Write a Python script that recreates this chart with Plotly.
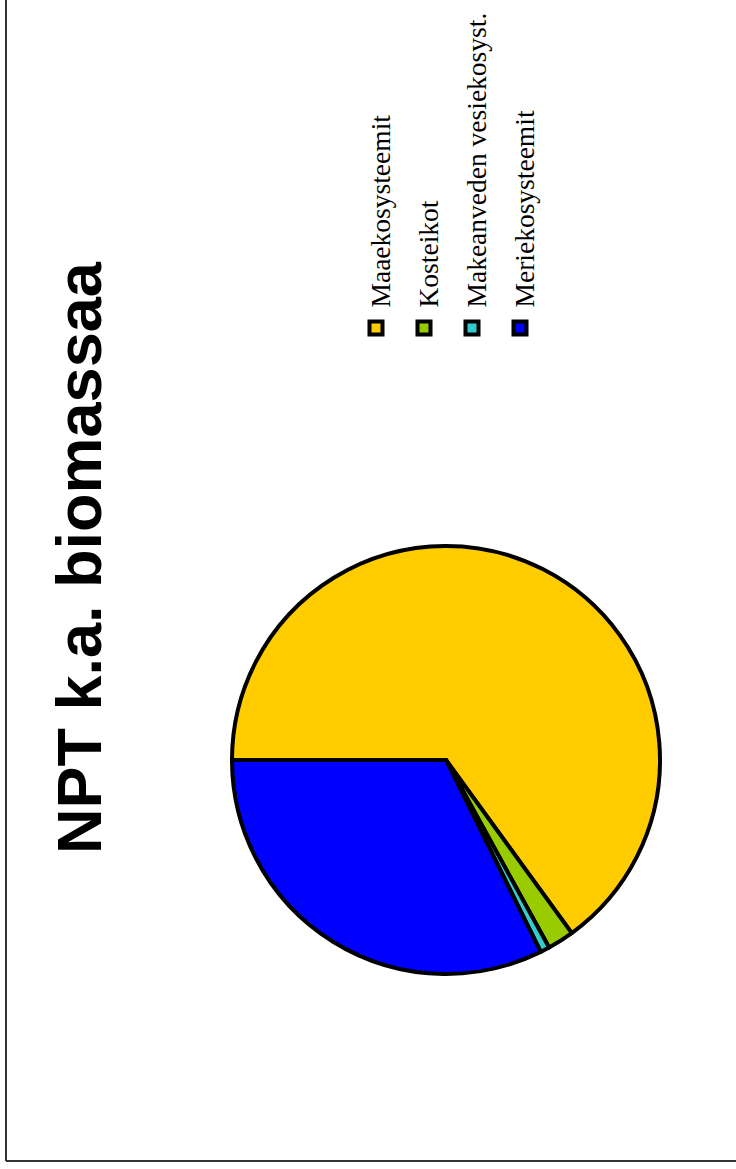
import plotly.graph_objects as go

# Net primary production shares by ecosystem type
categories = ["Maaekosysteemit", "Kosteikot", "Makeanveden vesiekosyst.", "Meriekosysteemit"]
shares = [65.0, 2.0, 0.7, 32.3]
colors = ["#FFCC00", "#99CC00", "#33CCCC", "#0000FF"]
title_text = "NPT k.a. biomassaa"

W, H = 736, 1169


def px_x(x):
    return x / W


def px_y(y):
    return 1 - y / H


fig = go.Figure()

fig.add_trace(go.Pie(
    labels=categories,
    values=shares,
    marker=dict(colors=colors, line=dict(color="black", width=4)),
    sort=False,
    direction="clockwise",
    rotation=270,
    textinfo="none",
    hoverinfo="label+percent",
    showlegend=False,
    domain=dict(x=[px_x(232), px_x(660)], y=[px_y(974), px_y(546)]),
))

annotations = [
    dict(
        text=f"<b>{title_text}</b>",
        x=px_x(79), y=px_y(558), xref="paper", yref="paper",
        xanchor="center", yanchor="middle", textangle=-90, showarrow=False,
        font=dict(family="Liberation Sans, Arial, sans-serif", size=63, color="black"),
    )
]

shapes = []

# Rotated legend: colour key squares with upward-reading labels
legend_x = [380, 428, 476, 524]
for name, col, cx in zip(categories, colors, legend_x):
    annotations.append(dict(
        text=name,
        x=px_x(cx), y=px_y(310), xref="paper", yref="paper",
        xanchor="center", yanchor="bottom", textangle=-90, showarrow=False,
        font=dict(family="Liberation Serif, Times New Roman, serif", size=27.5, color="black"),
    ))
    mx = cx - 4
    shapes.append(dict(
        type="rect", xref="paper", yref="paper",
        x0=px_x(mx - 6.5), x1=px_x(mx + 6.5),
        y0=px_y(328 + 6.5), y1=px_y(328 - 6.5),
        fillcolor=col, line=dict(color="black", width=4),
    ))

# Frame edges
shapes.append(dict(type="line", xref="paper", yref="paper",
                   x0=px_x(6), x1=px_x(6), y0=px_y(1161), y1=1.0,
                   line=dict(color="#333333", width=2)))
shapes.append(dict(type="line", xref="paper", yref="paper",
                   x0=px_x(6), x1=1.0, y0=px_y(1161), y1=px_y(1161),
                   line=dict(color="#333333", width=2)))

fig.update_layout(
    width=W, height=H,
    margin=dict(l=0, r=0, t=0, b=0),
    paper_bgcolor="white",
    plot_bgcolor="white",
    annotations=annotations,
    shapes=shapes,
)

fig.write_html("out.html")
